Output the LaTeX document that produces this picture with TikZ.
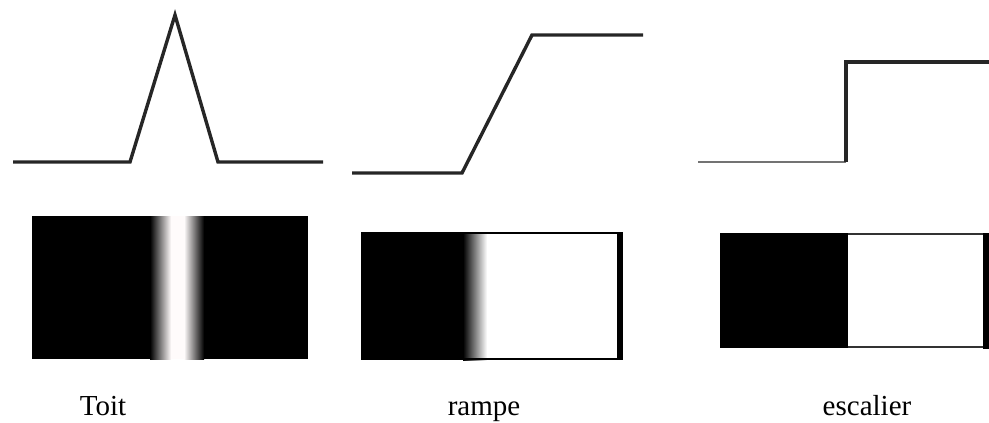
\documentclass[tikz,border=0pt]{standalone}
\usepackage{fontspec}
\setmainfont{Liberation Serif}
\begin{document}
\begin{tikzpicture}[x=1pt,y=-1pt,
  curve/.style={draw=black!85,line width=3.4pt,line join=miter},
  thincurve/.style={draw=black!55,line width=2.4pt},
  frame/.style={draw=black,line width=2.4pt},
  lbl/.style={font=\fontsize{29}{32}\selectfont,anchor=base,inner sep=0pt}]
\useasboundingbox (0,0) rectangle (989,423);
% ---- Toit profile
\draw[curve] (13,162) -- (130,162) -- (175,15) -- (218,162) -- (323,162);
% ---- Rampe profile
\draw[curve] (352,173) -- (462,173) -- (532,35) -- (643,35);
% ---- Escalier profile
\draw[thincurve] (698,162) -- (846,162);
\draw[curve] (846,162) -- (846,62) -- (989,62);
% ---- Toit image
\fill[black] (32,216) rectangle (308,359);
\shade[left color=black,right color=white!94!pink] (150,216) rectangle (171,359);
\fill[white!94!pink] (171,216) rectangle (184,359);
\shade[left color=white!94!pink,right color=black] (184,216) rectangle (204,359);
% ---- Rampe image
\fill[white] (362,232) rectangle (621,360);
\fill[black] (362,232) rectangle (463,360);
\shade[left color=black,right color=white] (463,232) rectangle (487,360);
\draw[frame] (362,233) rectangle (620,359);
\fill[black] (617,232) rectangle (623,360);
% ---- Escalier image
\fill[black] (720,233) rectangle (848,348);
\draw[frame,draw=black!80] (848,234) -- (984,234);
\draw[frame,draw=black!80] (848,347) -- (984,347);
\fill[black] (983,233) rectangle (989,349);
% ---- Labels
\node[lbl] (toit) at (103,415) {Toit};
\node[lbl] (rampe) at (484,415) {rampe};
\node[lbl] (escalier) at (867,415) {escalier};
\end{tikzpicture}
\end{document}
